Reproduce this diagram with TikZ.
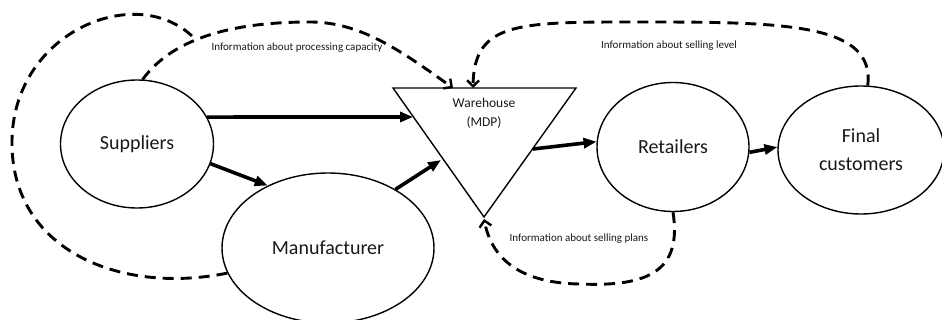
\documentclass[tikz,border=0pt]{standalone}
\usepackage{fontspec}
\setmainfont{Carlito}
\usetikzlibrary{shapes.geometric, arrows.meta, calc}

\begin{document}
\begin{tikzpicture}[x=1pt, y=-1pt,
  entity/.style={ellipse, draw, line width=1.4pt, inner sep=0pt, align=center,
    font=\fontsize{20}{28}\selectfont, text=black!90},
  flow/.style={line width=3.6pt, -{Triangle[length=13pt, width=10pt]}},
  info/.style={line width=2.9pt, dash pattern=on 11pt off 7pt},
  infotip/.style={-{Straight Barb[length=6pt, width=12pt, line width=2.4pt]}},
  infolabel/.style={font=\fontsize{11}{13}\selectfont, text=black!90}]

  % --- CANVAS ---
  \useasboundingbox (0,0) rectangle (942,320);

  % --- ENTIDADES ---
  \node[entity, minimum width=153pt, minimum height=128pt] (sup) at (137,144) {Suppliers};
  \node[entity, minimum width=212pt, minimum height=150pt] (mfr) at (328,248) {Manufacturer};
  \node[entity, minimum width=152pt, minimum height=129pt] (ret) at (673,147) {Retailers};
  \node[entity, minimum width=166pt, minimum height=128pt] (fc) at (861,150) {Final\\customers};

  % --- ARMAZEM (triangulo) ---
  \coordinate (whtl) at (393,88);
  \coordinate (whtr) at (576,88);
  \coordinate (whbot) at (484,217);
  \draw[line width=1.4pt] (whtl) -- (whtr) -- (whbot) -- cycle;
  \node[align=center, font=\fontsize{13.5}{19}\selectfont, text=black!90] (wh) at (484,113) {Warehouse\\(MDP)};

  % Pontos nas arestas do triangulo
  \coordinate (whin1) at (413,117);
  \coordinate (whin2) at (441,160);
  \coordinate (whout) at (533,149);
  \coordinate (whA) at (453,88);
  \coordinate (whB) at (473,88);
  \coordinate (whC) at (484,219);

  % --- FLUXO DE MATERIAL ---
  \draw[flow] (sup.21) -- (whin1);
  \draw[flow] (sup.345) -- (mfr.134);
  \draw[flow] (mfr.41) -- (whin2);
  \draw[flow] (whout) -- (ret.176);
  \draw[flow] (ret.356) -- (fc.178);

  % --- FLUXO DE INFORMACAO ---
  % Capacidade de processamento
  \coordinate (join) at (196,40);
  \draw[info] (mfr.194) .. controls (120,295) and (10,250) .. (12,140)
    .. controls (14,30) and (140,-20) .. (join);
  \draw[info, infotip] (sup.85) .. controls (175,35) and (240,22) .. (310,22)
    .. controls (360,22) and (400,50) .. (whA);
  \node[infolabel] (lblcap) at (297,48) {Information about processing capacity};

  % Nivel de vendas
  \draw[info, infotip] (fc.84) .. controls (875,25) and (790,22) .. (650,22)
    .. controls (520,22) and (474,20) .. (whB);
  \node[infolabel] (lbllvl) at (669,46) {Information about selling level};

  % Planos de vendas
  \draw[info, infotip] (ret.south) .. controls (682,270) and (650,287) .. (580,284)
    .. controls (510,283) and (490,250) .. (whC);
  \node[infolabel] (lblplan) at (579,239) {Information about selling plans};

\end{tikzpicture}
\end{document}
